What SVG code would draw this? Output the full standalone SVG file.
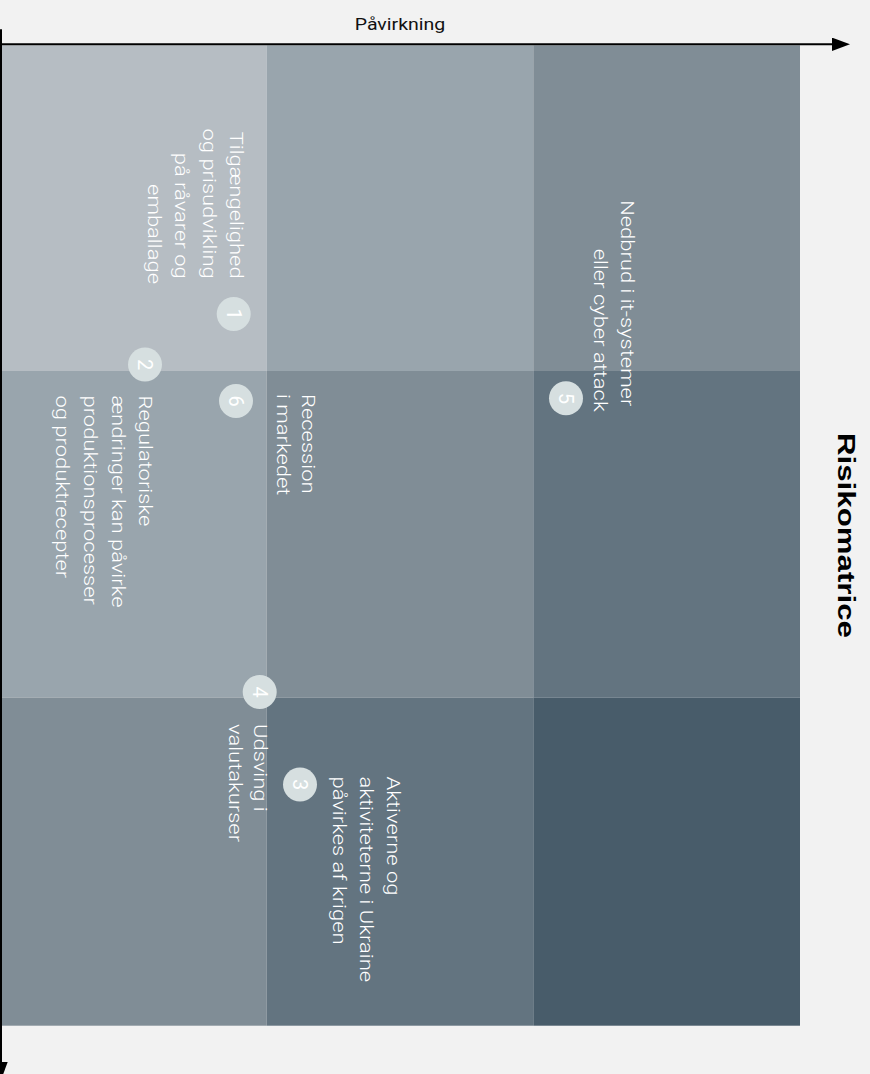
<svg xmlns="http://www.w3.org/2000/svg" width="870" height="1074" viewBox="0 0 870 1074">
  <style>
    .body { font-family: Roboto, "Liberation Sans", sans-serif; font-size: 18.3px; font-weight: 300; fill: #ffffff; }
    .num { font-family: Roboto, "Liberation Sans", sans-serif; font-size: 20px; font-weight: 400; fill: #ffffff; text-anchor: middle; }
    .badge { fill: #d6dfe0; }
    .axis { stroke: #000000; stroke-width: 2; fill: none; }
    .c1 { fill: #b6bdc3; }
    .c2 { fill: #99a5ad; }
    .c3 { fill: #808d96; }
    .c4 { fill: #637480; }
    .c5 { fill: #485c6a; }
  </style>
  <defs>
    <marker id="arrow" markerUnits="userSpaceOnUse" markerWidth="18" markerHeight="14" refX="0" refY="6.7" orient="auto">
      <path d="M0,0 L18,6.7 L0,13.4 Z" fill="#000000"/>
    </marker>
  </defs>
  <rect width="870" height="1074" fill="#f2f2f2"/>

  <g id="matrix">
    <rect class="c1" x="0" y="45.3" width="266.7" height="325.7"/>
    <rect class="c2" x="266.7" y="45.3" width="266.6" height="325.7"/>
    <rect class="c3" x="533.3" y="45.3" width="266.7" height="325.7"/>
    <rect class="c2" x="0" y="371" width="266.7" height="326.7"/>
    <rect class="c3" x="266.7" y="371" width="266.6" height="326.7"/>
    <rect class="c4" x="533.3" y="371" width="266.7" height="326.7"/>
    <rect class="c3" x="0" y="697.7" width="266.7" height="328"/>
    <rect class="c4" x="266.7" y="697.7" width="266.6" height="328"/>
    <rect class="c5" x="533.3" y="697.7" width="266.7" height="328"/>
  </g>

  <g id="connectors">
    <line class="axis" x1="0" y1="44.3" x2="832" y2="44.3" marker-end="url(#arrow)"/>
    <line class="axis" x1="1" y1="29.3" x2="1" y2="1062" marker-end="url(#arrow)"/>
  </g>

  <g id="axis-labels">
    <text transform="translate(400,29.5) scale(1.22,1)" font-family="Roboto, 'Liberation Sans', sans-serif" font-size="16" fill="#111111" text-anchor="middle">Påvirkning</text>
    <text transform="translate(837.5,433) rotate(90) scale(1.33,1)" font-family="'Liberation Sans', Arial, sans-serif" font-size="23.5" font-weight="bold" fill="#000000">Risikomatrice</text>
  </g>

  <g id="risk-1">
    <text class="body" text-anchor="end" transform="translate(229.8,284) rotate(90) scale(1.2,1)">
      <tspan x="0" y="0">Tilgængelighed</tspan>
      <tspan x="0" dy="27.3">og prisudvikling</tspan>
      <tspan x="0" dy="27.3">på råvarer og</tspan>
      <tspan x="0" dy="27.3">emballage</tspan>
    </text>
    <circle class="badge" cx="233.7" cy="314" r="17"/>
    <text class="num" transform="translate(233.7,314) rotate(90)" y="7.1">1</text>
  </g>

  <g id="risk-2">
    <text class="body" transform="translate(139.4,395.5) rotate(90) scale(1.2,1)">
      <tspan x="0" y="0">Regulatoriske</tspan>
      <tspan x="0" dy="27.7">ændringer kan påvirke</tspan>
      <tspan x="0" dy="27.7">produktionsprocesser</tspan>
      <tspan x="0" dy="27.7">og produktrecepter</tspan>
    </text>
    <circle class="badge" cx="145" cy="364.5" r="17"/>
    <text class="num" transform="translate(145,364.5) rotate(90)" y="7.1">2</text>
  </g>

  <g id="risk-3">
    <text class="body" transform="translate(387,776.5) rotate(90) scale(1.2,1)">
      <tspan x="0" y="0">Aktiverne og</tspan>
      <tspan x="0" dy="26.8">aktiviteterne i Ukraine</tspan>
      <tspan x="0" dy="26.8">påvirkes af krigen</tspan>
    </text>
    <circle class="badge" cx="300" cy="784.5" r="17"/>
    <text class="num" transform="translate(300,784.5) rotate(90)" y="7.1">3</text>
  </g>

  <g id="risk-4">
    <text class="body" transform="translate(253.5,724) rotate(90) scale(1.2,1)">
      <tspan x="0" y="0">Udsving i</tspan>
      <tspan x="0" dy="24.5">valutakurser</tspan>
    </text>
    <circle class="badge" cx="259.7" cy="692" r="17"/>
    <text class="num" transform="translate(259.7,692) rotate(90)" y="7.1">4</text>
  </g>

  <g id="risk-5">
    <text class="body" text-anchor="end" transform="translate(620.5,411.7) rotate(90) scale(1.2,1)">
      <tspan x="0" y="0">Nedbrud i it-systemer</tspan>
      <tspan x="0" dy="26.5">eller cyber attack</tspan>
    </text>
    <circle class="badge" cx="566" cy="398.3" r="17"/>
    <text class="num" transform="translate(566,398.3) rotate(90)" y="7.1">5</text>
  </g>

  <g id="risk-6">
    <text class="body" transform="translate(302,394) rotate(90) scale(1.2,1)">
      <tspan x="0" y="0">Recession</tspan>
      <tspan x="0" dy="25.5">i markedet</tspan>
    </text>
    <circle class="badge" cx="236" cy="401" r="17"/>
    <text class="num" transform="translate(236,401) rotate(90)" y="7.1">6</text>
  </g>
</svg>
